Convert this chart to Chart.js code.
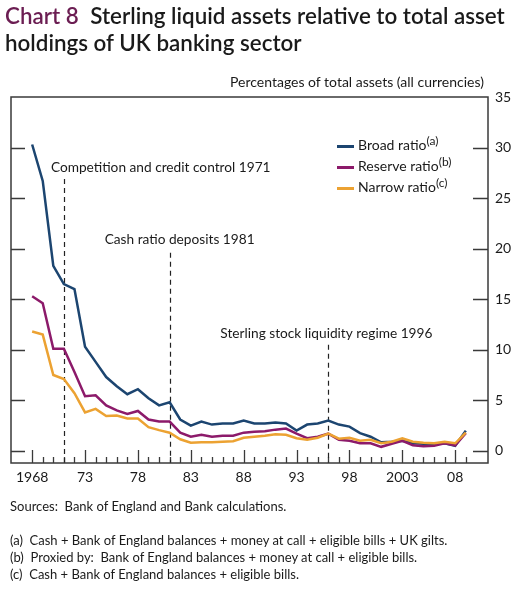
<!DOCTYPE html>
<html>
<head>
<meta charset="utf-8">
<script src="https://cdn.jsdelivr.net/npm/chart.js@4.4.0/dist/chart.umd.min.js"></script>
<style>
  body { margin: 0; background: #fff; font-family: Lato, "Open Sans", sans-serif; color: #1a1a1a; }
  #wrap { position: relative; width: 529px; height: 593px; overflow: hidden; }
  #titulo { position: absolute; left: 5px; top: 2px; font-size: 22.4px; line-height: 27px; font-weight: 600; }
  #titulo span { color: #6b1d52; margin-right: 6px; }
  #unidades { position: absolute; left: 230px; top: 73px; font-size: 14px; }
  #lienzo { position: absolute; left: 0; top: 0; }
  #leyenda { position: absolute; left: 337px; top: 134px; font-size: 14px; line-height: 21px; }
  #leyenda div { white-space: nowrap; height: 21px; }
  #leyenda i { display: inline-block; width: 17px; height: 3px; vertical-align: middle; margin-right: 4px; }
  #leyenda sup { font-size: 12px; line-height: 0; vertical-align: 5px; }
  #notas { position: absolute; left: 10px; top: 498px; font-size: 13px; line-height: 17px; }
</style>
</head>
<body>
<div id="wrap">
  <canvas id="lienzo" width="529" height="500"></canvas>
  <div id="titulo"><span>Chart 8</span> Sterling liquid assets relative to total asset<br>holdings of UK banking sector</div>
  <div id="unidades">Percentages of total assets (all currencies)</div>
  <div id="leyenda">
    <div><i style="background:#1c4570"></i>Broad ratio<sup>(a)</sup></div>
    <div><i style="background:#8c1a6a"></i>Reserve ratio<sup>(b)</sup></div>
    <div><i style="background:#eca232"></i>Narrow ratio<sup>(c)</sup></div>
  </div>
  <div id="notas">
    Sources:&nbsp; Bank of England and Bank calculations.<br><br>
    (a)&nbsp; Cash + Bank of England balances + money at call + eligible bills + UK gilts.<br>
    (b)&nbsp; Proxied by:&nbsp; Bank of England balances + money at call + eligible bills.<br>
    (c)&nbsp; Cash + Bank of England balances + eligible bills.
  </div>
</div>
<script>
// Años (1968 - 2009)
const anios = [];
for (let a = 1968; a <= 2009; a++) anios.push(a);

// Ratio amplio
const ratioAmplio = [30.3, 26.7, 18.3, 16.5, 16.0, 10.3, 8.8, 7.3, 6.4, 5.6,
    6.1, 5.2, 4.5, 4.8, 3.1, 2.5, 2.9, 2.6, 2.7, 2.7,
    3.0, 2.7, 2.7, 2.8, 2.7, 2.0, 2.6, 2.7, 3.0, 2.6,
    2.4, 1.75, 1.4, 0.85, 0.9, 1.0, 0.75, 0.7, 0.65, 0.75,
    0.5, 2.0];

// Ratio de reserva
const ratioReserva = [15.3, 14.6, 10.1, 10.1, 7.8, 5.4, 5.5, 4.5, 4.0, 3.65,
    3.95, 3.1, 2.9, 2.9, 1.8, 1.4, 1.6, 1.4, 1.5, 1.5,
    1.8, 1.9, 1.95, 2.1, 2.2, 1.7, 1.25, 1.4, 1.7, 1.1,
    1.0, 0.75, 0.75, 0.4, 0.7, 1.0, 0.55, 0.45, 0.5, 0.75,
    0.55, 1.75];

// Ratio estrecho
const ratioEstrecho = [11.8, 11.5, 7.5, 7.1, 5.7, 3.8, 4.15, 3.45, 3.5, 3.2,
    3.2, 2.35, 2.05, 1.8, 1.15, 0.8, 0.85, 0.85, 0.9, 0.95,
    1.3, 1.4, 1.5, 1.65, 1.6, 1.25, 1.1, 1.3, 1.7, 1.2,
    1.3, 1.0, 1.1, 0.75, 0.9, 1.25, 0.9, 0.8, 0.75, 0.9,
    0.75, 1.8];

// Etiquetas del eje x
const aniosEtiqueta = [1968, 1973, 1978, 1983, 1988, 1993, 1998, 2003, 2008];
const textoEtiqueta = ['1968', '73', '78', '83', '88', '93', '98', '2003', '08'];

// Eventos (líneas discontinuas)
const eventosAnio = [1971, 1981, 1996];
const eventosTexto = ['Competition and credit control 1971', 'Cash ratio deposits 1981', 'Sterling stock liquidity regime 1996'];

// Colocación de las anotaciones (en valores del eje y, y desplazamiento del texto en px)
const eventosTope = [26.9, 19.6, 10.5];
const eventosTextoY = [28.0, 20.9, 11.6];
const eventosTextoDx = [-13, -65, -108];

const colorEje = '#3a3a3a';
const fuente = 'Lato, "Open Sans", sans-serif';

function puntos(valores) {
    return valores.map((v, i) => ({ x: anios[i], y: v }));
}

// Plugin para el marco, marcas y anotaciones
const marcoPlugin = {
    id: 'marco',
    beforeDatasetsDraw(chart) {
        const ctx = chart.ctx;
        const x = chart.scales.x;
        const y = chart.scales.y;
        const area = chart.chartArea;
        ctx.save();

        // Marcas del eje y (izquierda y derecha, hacia dentro)
        ctx.strokeStyle = colorEje;
        ctx.lineWidth = 1.3;
        for (let v = 0; v <= 30; v += 5) {
            const py = Math.round(y.getPixelForValue(v)) + 0.5;
            ctx.beginPath();
            ctx.moveTo(area.left, py); ctx.lineTo(area.left + 14, py);
            ctx.moveTo(area.right, py); ctx.lineTo(area.right - 15, py);
            ctx.stroke();
        }

        // Marcas del eje x (mayores y menores)
        for (const a of anios) {
            const px = Math.round(x.getPixelForValue(a)) + 0.5;
            const largo = aniosEtiqueta.includes(a) ? 13 : 6;
            ctx.beginPath();
            ctx.moveTo(px, area.bottom); ctx.lineTo(px, area.bottom - largo);
            ctx.stroke();
        }

        // Líneas discontinuas de eventos
        ctx.strokeStyle = '#222';
        ctx.lineWidth = 1.2;
        ctx.setLineDash([5, 4]);
        eventosAnio.forEach((a, i) => {
            const px = Math.round(x.getPixelForValue(a)) + 0.5;
            ctx.beginPath();
            ctx.moveTo(px, y.getPixelForValue(eventosTope[i]));
            ctx.lineTo(px, area.bottom);
            ctx.stroke();
        });
        ctx.setLineDash([]);

        // Textos de eventos
        ctx.fillStyle = '#1a1a1a';
        ctx.font = '13.7px ' + fuente;
        ctx.textBaseline = 'middle';
        ctx.textAlign = 'left';
        eventosAnio.forEach((a, i) => {
            const px = x.getPixelForValue(a) + eventosTextoDx[i];
            ctx.fillText(eventosTexto[i], px, y.getPixelForValue(eventosTextoY[i]));
        });
        ctx.restore();
    },
    afterDraw(chart) {
        const ctx = chart.ctx;
        const area = chart.chartArea;
        ctx.save();
        ctx.strokeStyle = colorEje;
        ctx.lineWidth = 1.5;
        ctx.strokeRect(area.left, area.top, area.right - area.left, area.bottom - area.top);
        ctx.restore();
    }
};

const ctxGrafico = document.getElementById('lienzo');
new Chart(ctxGrafico, {
    type: 'line',
    data: {
        datasets: [
            { label: 'Narrow ratio', data: puntos(ratioEstrecho), borderColor: '#eca232', borderWidth: 2.5, pointRadius: 0, tension: 0 },
            { label: 'Reserve ratio', data: puntos(ratioReserva), borderColor: '#8c1a6a', borderWidth: 2.5, pointRadius: 0, tension: 0 },
            { label: 'Broad ratio', data: puntos(ratioAmplio), borderColor: '#1c4570', borderWidth: 2.5, pointRadius: 0, tension: 0 }
        ]
    },
    options: {
        responsive: false,
        animation: false,
        layout: { padding: { left: 11, top: 97, right: 0, bottom: 5 } },
        plugins: { legend: { display: false }, tooltip: { enabled: false } },
        scales: {
            x: {
                type: 'linear',
                min: 1966,
                max: 2011.1,
                grid: { display: false, drawTicks: false },
                border: { display: false },
                afterBuildTicks(scale) {
                    scale.ticks = aniosEtiqueta.map(v => ({ value: v }));
                },
                afterFit(scale) { scale.height = 32; },
                ticks: {
                    padding: 6,
                    maxRotation: 0,
                    autoSkip: false,
                    color: '#1a1a1a',
                    font: { family: fuente, size: 14 },
                    callback: (v) => textoEtiqueta[aniosEtiqueta.indexOf(v)]
                }
            },
            y: {
                position: 'right',
                min: -1.2,
                max: 35,
                grid: { display: false, drawTicks: false },
                border: { display: false },
                afterBuildTicks(scale) {
                    scale.ticks = [0, 5, 10, 15, 20, 25, 30, 35].map(v => ({ value: v }));
                },
                afterFit(scale) { scale.width = 41; },
                ticks: {
                    padding: 7,
                    color: '#1a1a1a',
                    font: { family: fuente, size: 14 }
                }
            }
        }
    },
    plugins: [marcoPlugin]
});
</script>
</body>
</html>
